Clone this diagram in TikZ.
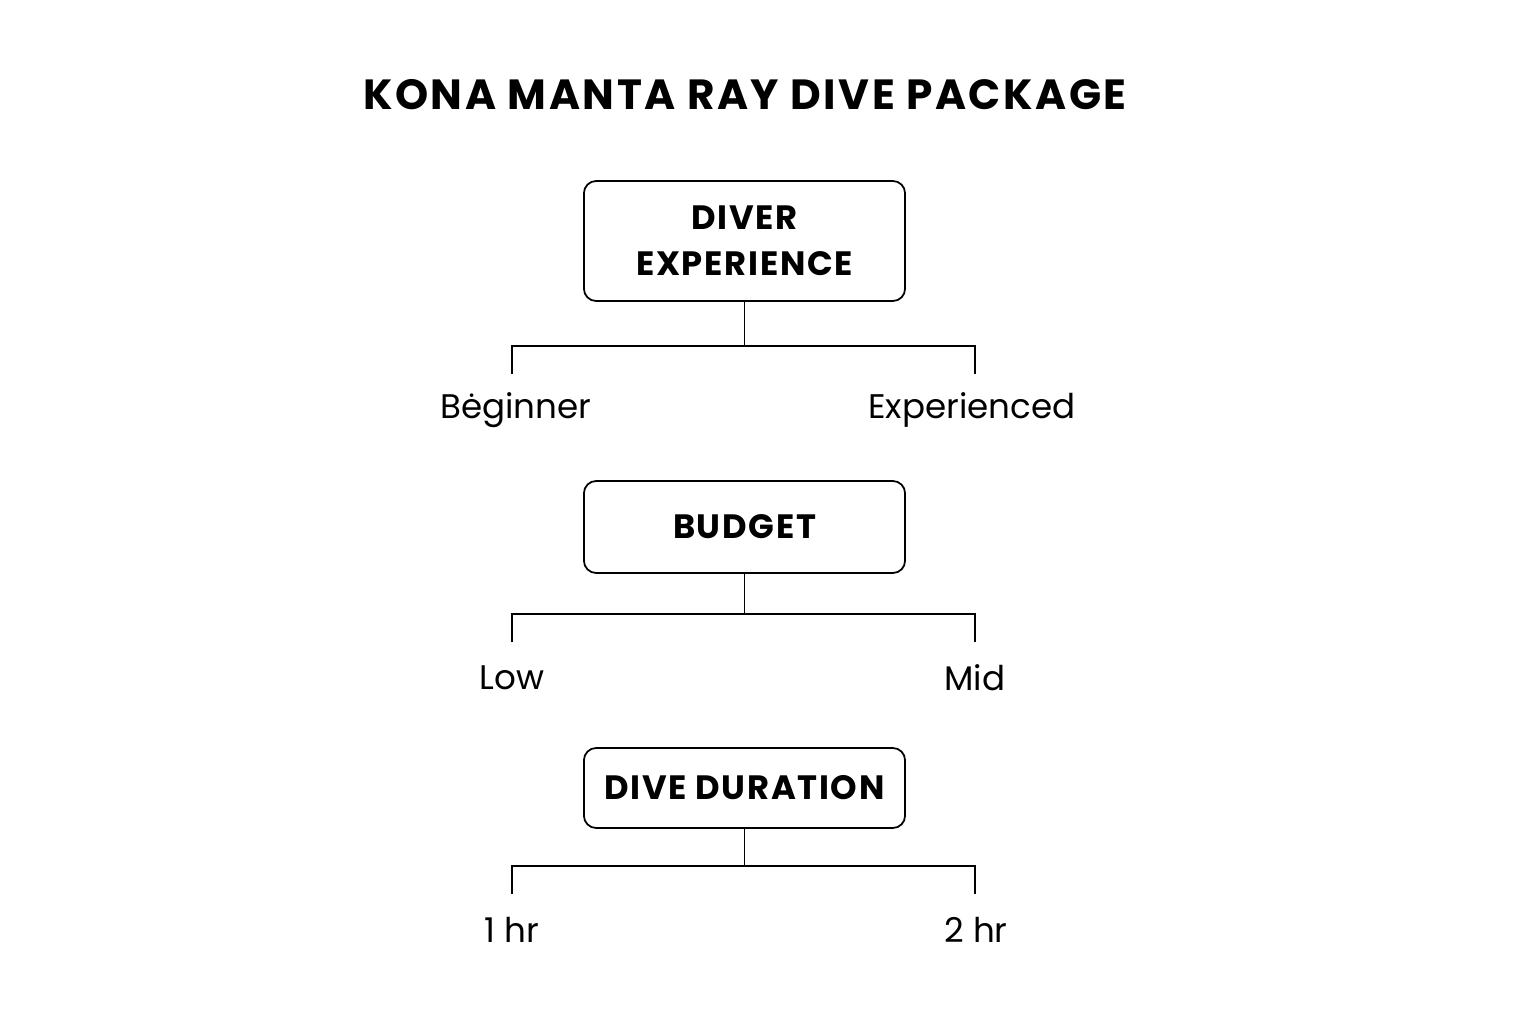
\documentclass[tikz,border=0pt]{standalone}
\usepackage{fontspec}
\setmainfont{Poppins}
\newfontfamily\titlefont[LetterSpace=6]{Poppins}
\newfontfamily\boxfont[LetterSpace=5]{Poppins}

\begin{document}
\begin{tikzpicture}[x=0.01cm, y=-0.01cm, line width=0.5pt]
	\useasboundingbox (0, 0) rectangle (1536, 1024);
	\tikzset{
		box/.style={draw, rounded corners=3.5pt, minimum width=3.21cm, inner sep=0pt, align=center, font=\boxfont\fontsize{9.6}{13}\selectfont\bfseries},
		choice/.style={inner sep=0pt, font=\fontsize{9.7}{12}\selectfont}
	}

	% タイトル
	\node (title) at (745, 95) {\titlefont\fontsize{12}{14}\selectfont\bfseries KONA MANTA RAY DIVE PACKAGE};

	% 箱
	\node[box, minimum height=1.2cm] (exp) at (744.5, 241) {DIVER\\EXPERIENCE};
	\node[box, minimum height=0.92cm] (bud) at (744.5, 527) {BUDGET};
	\node[box, minimum height=0.8cm] (dur) at (744.5, 788) {DIVE DURATION};

	% 選択肢
	\node[choice] (beg) at (516, 410) {Bėginner};
	\node[choice] (expd) at (972, 410) {Experienced};
	\node[choice] (low) at (512, 678) {Low};
	\node[choice] (mid) at (975, 678) {Mid};
	\node[choice] (one) at (512, 930) {1 hr};
	\node[choice] (two) at (976, 930) {2 hr};

	% 分岐点
	\coordinate (j1) at (744.5, 346);
	\coordinate (b1) at (512, 374);
	\coordinate (e1) at (975, 374);
	\coordinate (j2) at (744.5, 614);
	\coordinate (b2) at (512, 642);
	\coordinate (e2) at (975, 642);
	\coordinate (j3) at (744.5, 866);
	\coordinate (b3) at (512, 894);
	\coordinate (e3) at (975, 894);

	% 線を引く
	\draw (exp.south) -- (j1);
	\draw (b1) |- (j1) -| (e1);
	\draw (bud.south) -- (j2);
	\draw (b2) |- (j2) -| (e2);
	\draw (dur.south) -- (j3);
	\draw (b3) |- (j3) -| (e3);
\end{tikzpicture}
\end{document}
